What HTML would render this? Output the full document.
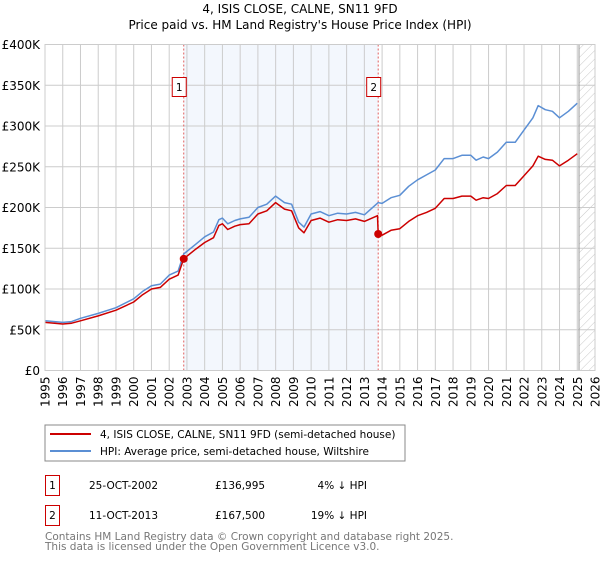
<!DOCTYPE html>
<html><head><meta charset="utf-8"><style>
body{margin:0;background:#fff;font-family:"DejaVu Sans","Liberation Sans",sans-serif;}
svg text{font-family:"DejaVu Sans","Liberation Sans",sans-serif;}
</style></head><body>
<svg id="chart" width="600" height="560" viewBox="0 0 600 560" xmlns="http://www.w3.org/2000/svg">
<defs><pattern id="hatch" width="6" height="6" patternUnits="userSpaceOnUse" patternTransform="rotate(45)"><line x1="0" y1="0" x2="0" y2="6" stroke="#bbb" stroke-width="0.8"/></pattern></defs>
<text x="300" y="13" text-anchor="middle" font-size="12">4, ISIS CLOSE, CALNE, SN11 9FD</text>
<text x="300" y="29" text-anchor="middle" font-size="12">Price paid vs. HM Land Registry's House Price Index (HPI)</text>
<g id="plot"></g>
<rect x="45" y="425" width="360" height="36" fill="#fff" stroke="#888"/>
<line x1="50" y1="434" x2="91" y2="434" stroke="#cc0000" stroke-width="2"/>
<text x="100" y="438" font-size="10.5">4, ISIS CLOSE, CALNE, SN11 9FD (semi-detached house)</text>
<line x1="50" y1="451" x2="91" y2="451" stroke="#5b8fd4" stroke-width="2"/>
<text x="100" y="455" font-size="10.5">HPI: Average price, semi-detached house, Wiltshire</text>
<g>
<rect x="45.5" y="475.5" width="14" height="20" fill="none" stroke="#cc0000"/>
<text x="52.5" y="489" text-anchor="middle" font-size="10.5">1</text>
<text x="89" y="489" font-size="10.5">25-OCT-2002</text>
<text x="215" y="489" font-size="10.5">£136,995</text>
<text x="367" y="489" text-anchor="end" font-size="10.5">4% ↓ HPI</text></g>
<g>
<rect x="45.5" y="505.5" width="14" height="20" fill="none" stroke="#cc0000"/>
<text x="52.5" y="519" text-anchor="middle" font-size="10.5">2</text>
<text x="89" y="519" font-size="10.5">11-OCT-2013</text>
<text x="215" y="519" font-size="10.5">£167,500</text>
<text x="367" y="519" text-anchor="end" font-size="10.5">19% ↓ HPI</text></g>
<text x="45" y="540" font-size="10.5" fill="#777">Contains HM Land Registry data © Crown copyright and database right 2025.</text>
<text x="45" y="550" font-size="10.5" fill="#777">This data is licensed under the Open Government Licence v3.0.</text>
</svg>
<script>
const yTicks=[0,50,100,150,200,250,300,350,400];
const yTickLabels=["£0","£50K","£100K","£150K","£200K","£250K","£300K","£350K","£400K"];
const xYears=[1995,1996,1997,1998,1999,2000,2001,2002,2003,2004,2005,2006,2007,2008,2009,2010,2011,2012,2013,2014,2015,2016,2017,2018,2019,2020,2021,2022,2023,2024,2025,2026];
const hpiT=[1995,1996,1996.5,1997,1998,1999,2000,2000.5,2001,2001.5,2002,2002.5,2002.82,2003.5,2004,2004.5,2004.8,2005,2005.3,2005.7,2006,2006.5,2007,2007.5,2008,2008.5,2008.9,2009.3,2009.6,2010,2010.5,2011,2011.5,2012,2012.5,2013,2013.78,2014,2014.5,2015,2015.5,2016,2016.5,2017,2017.5,2018,2018.5,2019,2019.3,2019.7,2020,2020.5,2021,2021.5,2022,2022.5,2022.8,2023.2,2023.6,2024,2024.5,2025];
const hpiV=[61,59,60,64,70,77,88,97,104,106,117,122,143,155,164,170,185,187,180,184,186,188,200,204,214,206,204,182,176,192,195,190,193,192,194,191,206,205,212,215,226,234,240,246,260,260,264,264,258,262,260,268,280,280,295,310,325,320,318,310,318,328];
const redT=[1995,1996,1996.5,1997,1998,1999,2000,2000.5,2001,2001.5,2002,2002.5,2002.82,2003.5,2004,2004.5,2004.8,2005,2005.3,2005.7,2006,2006.5,2007,2007.5,2008,2008.5,2008.9,2009.3,2009.6,2010,2010.5,2011,2011.5,2012,2012.5,2013,2013.74,2013.78,2014,2014.5,2015,2015.5,2016,2016.5,2017,2017.5,2018,2018.5,2019,2019.3,2019.7,2020,2020.5,2021,2021.5,2022,2022.5,2022.8,2023.2,2023.6,2024,2024.5,2025];
const redV=[59,57,58,61,67,74,84,93,100,102,112,117,137,149,157,163,178,180,173,177,179,180,192,196,206,198,196,175,169,184,187,182,185,184,186,183,190,167.5,166,172,174,183,190,194,199,211,211,214,214,209,212,211,217,227,227,239,251,263,259,258,251,258,266];
const saleT=[2002.82,2013.78];
const saleV=[136.995,167.5];
const saleLabels=["1","2"];
const dataEnd=2025.1;

const NS="http://www.w3.org/2000/svg";
const L=45,R=595,T=44.5,B=370.5;
const xs=t=>L+(t-1995)/(2026-1995)*(R-L);
const ys=v=>B-v/400*(B-T);
const g=document.getElementById('plot');
function mk(tag,attrs,parent){const e=document.createElementNS(NS,tag);for(const k in attrs)e.setAttribute(k,attrs[k]);(parent||g).appendChild(e);return e;}

let e=mk('rect',{x:xs(saleT[0]),y:T,width:xs(saleT[1])-xs(saleT[0]),height:B-T,fill:'#eef3fc',opacity:0.7});


e=mk('rect',{x:xs(dataEnd),y:T,width:R-xs(dataEnd),height:B-T,fill:'url(#hatch)'});


xYears.forEach(y=>{
 e=mk('line',{x1:xs(y),x2:xs(y),y1:T,y2:B,stroke:'#ccc','stroke-width':1});
 
 
 e=mk('text',{x:0,y:0,'font-size':12,'text-anchor':'end',transform:`translate(${xs(y)+4.5},${B+6}) rotate(-90)`});
 e.textContent=y;
 
 
});
yTicks.forEach((v,i)=>{
 e=mk('line',{x1:L,x2:R,y1:ys(v),y2:ys(v),stroke:'#ccc','stroke-width':1});
 
 
 e=mk('text',{x:L-5,y:ys(v)+4.5,'font-size':12,'text-anchor':'end'});
 e.textContent=yTickLabels[i];
 
 
});
e=mk('line',{x1:xs(dataEnd),x2:xs(dataEnd),y1:T,y2:B,stroke:'#999','stroke-width':1});


saleT.forEach((t,i)=>{
 e=mk('line',{x1:xs(t),x2:xs(t),y1:T,y2:B,stroke:'#e06060','stroke-width':1,'stroke-dasharray':'2,2'});
 
 
});
function path(T_,V_,col,name){
 const d=T_.map((t,i)=>(i?'L':'M')+xs(t).toFixed(1)+','+ys(V_[i]).toFixed(1)).join('');
 const p=mk('path',{d:d,fill:'none',stroke:col,'stroke-width':1.5,'stroke-linejoin':'round'});
 
 
}
path(hpiT,hpiV,'#5b8fd4','hpi-line');
path(redT,redV,'#cc0000','price-paid-line');
saleT.forEach((t,i)=>{
 e=mk('circle',{cx:xs(t),cy:ys(saleV[i]),r:4,fill:'#cc0000'});
 
 
 const bx=xs(t)-11;
 e=mk('rect',{x:bx-0.5,y:77.5,width:14,height:19,fill:'#fff',stroke:'#cc0000'});
 
 
 e=mk('text',{x:bx+6.5,y:91,'font-size':10.5,'text-anchor':'middle'});
 e.textContent=saleLabels[i];
 
 
});
e=mk('rect',{x:L,y:T,width:R-L,height:B-T,fill:'none',stroke:'#ccc'});


</script>
</body></html>
